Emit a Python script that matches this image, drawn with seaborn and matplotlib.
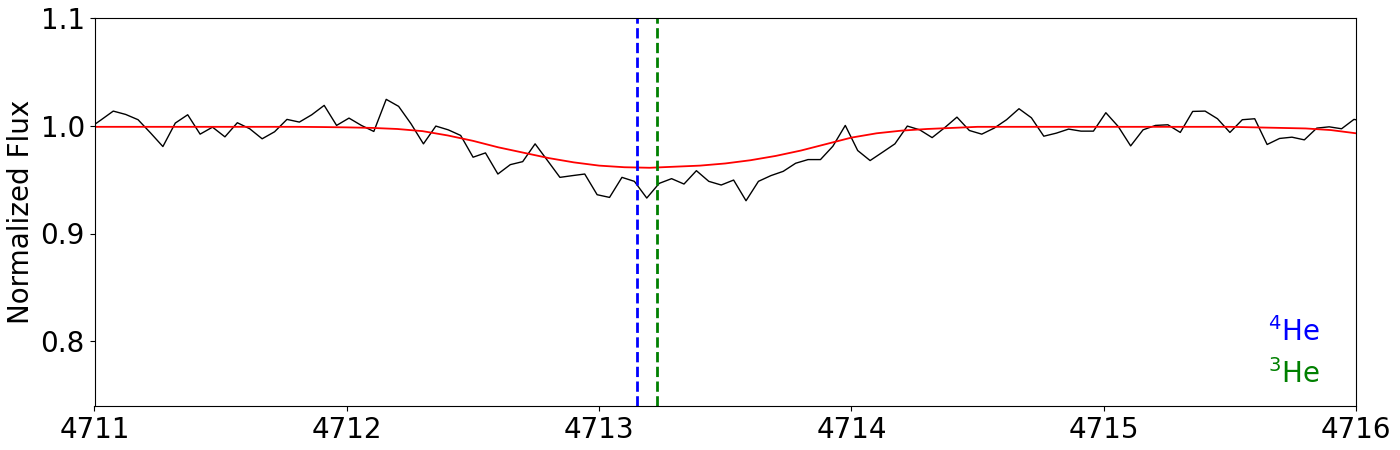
import numpy as np
import matplotlib
matplotlib.use("Agg")
import matplotlib.pyplot as plt
import seaborn as sns

# observed spectrum (wavelength grid in Angstrom, normalized flux)
wavelength = np.linspace(4710.976, 4716.041, 104)
flux = [
    0.9972, 1.0053, 1.0136, 1.0105, 1.0056, 0.9934, 0.9807, 1.0025, 1.0102, 0.9922,
    0.9987, 0.9897, 1.0028, 0.9972, 0.9879, 0.9944, 1.0059, 1.0034, 1.0102, 1.0189,
    1.0003, 1.0071, 1.0003, 0.9947, 1.0245, 1.0180, 1.0018, 0.9832, 0.9997, 0.9962,
    0.9910, 0.9708, 0.9748, 0.9552, 0.9639, 0.9667, 0.9832, 0.9677, 0.9521, 0.9537,
    0.9552, 0.9360, 0.9335, 0.9521, 0.9484, 0.9329, 0.9465, 0.9509, 0.9459, 0.9583,
    0.9484, 0.9450, 0.9496, 0.9304, 0.9484, 0.9537, 0.9577, 0.9652, 0.9686, 0.9686,
    0.9810, 1.0003, 0.9770, 0.9677, 0.9754, 0.9832, 0.9997, 0.9962, 0.9890, 0.9981,
    1.0080, 0.9956, 0.9922, 0.9978, 1.0056, 1.0158, 1.0074, 0.9903, 0.9931, 0.9969,
    0.9950, 0.9950, 1.0121, 0.9993, 0.9813, 0.9962, 1.0003, 1.0009, 0.9938, 1.0133,
    1.0136, 1.0065, 0.9938, 1.0056, 1.0065, 0.9826, 0.9882, 0.9894, 0.9869, 0.9978,
    0.9990, 0.9972, 1.0059, 1.0037,
]

model_wl = np.round(np.arange(4711.0, 4716.05, 0.1), 2)
model_flux = [
    0.999, 0.999, 0.999, 0.999, 0.999, 0.999, 0.999, 0.999, 0.999, 0.9988,
    0.9985, 0.998, 0.997, 0.995, 0.991, 0.986, 0.980, 0.975, 0.970, 0.966,
    0.963, 0.9615, 0.961, 0.962, 0.963, 0.965, 0.968, 0.972, 0.977, 0.983,
    0.989, 0.993, 0.9955, 0.997, 0.998, 0.999, 0.999, 0.999, 0.999, 0.999,
    0.999, 0.999, 0.999, 0.999, 0.999, 0.999, 0.9985, 0.998, 0.9975, 0.996,
    0.993,
]

line_4he = 4713.15
line_3he = 4713.23

fig, ax = plt.subplots(figsize=(14, 4.5), dpi=100)
fig.subplots_adjust(left=0.0675, right=0.9686, top=0.96, bottom=0.098)

sns.lineplot(x=wavelength, y=flux, color="black", linewidth=1, ax=ax)
sns.lineplot(x=model_wl, y=model_flux, color="red", linewidth=1.3, ax=ax)

ax.axvline(line_4he, color="blue", linestyle="--", linewidth=2)
ax.axvline(line_3he, color="green", linestyle="--", linewidth=2)

ax.text(0.971, 0.168, r"$^{4}$He", transform=ax.transAxes, color="blue",
        fontsize=20, ha="right")
ax.text(0.971, 0.06, r"$^{3}$He", transform=ax.transAxes, color="green",
        fontsize=20, ha="right")

ax.set_xlim(4711, 4716)
ax.set_ylim(0.74, 1.1)
ax.set_xticks([4711, 4712, 4713, 4714, 4715, 4716])
ax.set_yticks([0.8, 0.9, 1.0, 1.1])
ax.tick_params(labelsize=20)
ax.set_ylabel("Normalized Flux", fontsize=20)

fig.savefig("out.png")
